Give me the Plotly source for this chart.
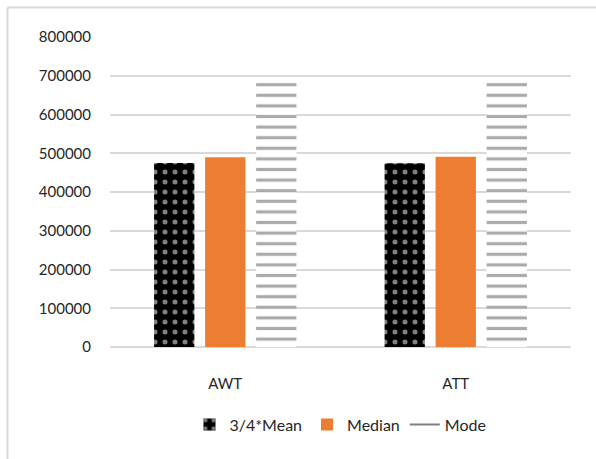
import plotly.graph_objects as go

categories = ["AWT", "ATT"]
mean_34 = [475000, 474000]
median = [490000, 491000]
mode = [696000, 695000]

font = "Lato, 'Open Sans', sans-serif"
grid = "#d9d9d9"

fig = go.Figure()
fig.add_trace(go.Bar(
    x=categories, y=mean_34, name="3/4*Mean",
    marker=dict(color="black", line=dict(width=0),
                pattern=dict(shape=".", fgcolor="white", bgcolor="black",
                             size=10, solidity=0.2, fillmode="overlay")),
))
fig.add_trace(go.Bar(
    x=categories, y=median, name="Median",
    marker=dict(color="#ed7d31", line=dict(width=0)),
))
fig.add_trace(go.Bar(
    x=categories, y=mode, name="Mode", showlegend=False,
    marker=dict(color="white", line=dict(width=0),
                pattern=dict(shape="-", fgcolor="#555555", bgcolor="white",
                             size=10.6, solidity=0.3, fillmode="overlay")),
))
# line-style legend entry for the Mode series
fig.add_trace(go.Scatter(
    x=[None], y=[None], mode="lines", name="Mode",
    line=dict(color="#7f7f7f", width=2),
))

fig.update_layout(
    width=596, height=459,
    margin=dict(l=110, r=25, t=37, b=112),
    paper_bgcolor="white", plot_bgcolor="white",
    barmode="group", bargap=0.336, bargroupgap=0.21,
    font=dict(family=font, size=15, color="#262626"),
    showlegend=True,
    legend=dict(orientation="h", x=0.5, xanchor="center", y=-0.25,
                yanchor="middle", font=dict(size=16, color="#262626"),
                traceorder="normal", itemwidth=30),
    xaxis=dict(showgrid=False, showline=False, ticks="",
               ticklabelstandoff=26, tickfont=dict(size=15)),
    yaxis=dict(range=[0, 800000], dtick=100000, tickformat="d",
               showgrid=True, gridcolor=grid, gridwidth=1.5,
               zeroline=True, zerolinecolor=grid, zerolinewidth=1.5,
               showline=False, ticks="", ticklabelstandoff=18,
               tickfont=dict(size=15)),
    shapes=[
        dict(type="line", xref="paper", yref="paper",
             x0=(7.5 - 110) / 461, x1=1.06, y0=(347 - 7.5) / 310, y1=(347 - 7.5) / 310,
             line=dict(color=grid, width=2)),
        dict(type="line", xref="paper", yref="paper",
             x0=(7.5 - 110) / 461, x1=(7.5 - 110) / 461, y0=(347 - 7.5) / 310, y1=-0.4,
             line=dict(color=grid, width=2)),
    ],
)

fig.write_html("out.html")
